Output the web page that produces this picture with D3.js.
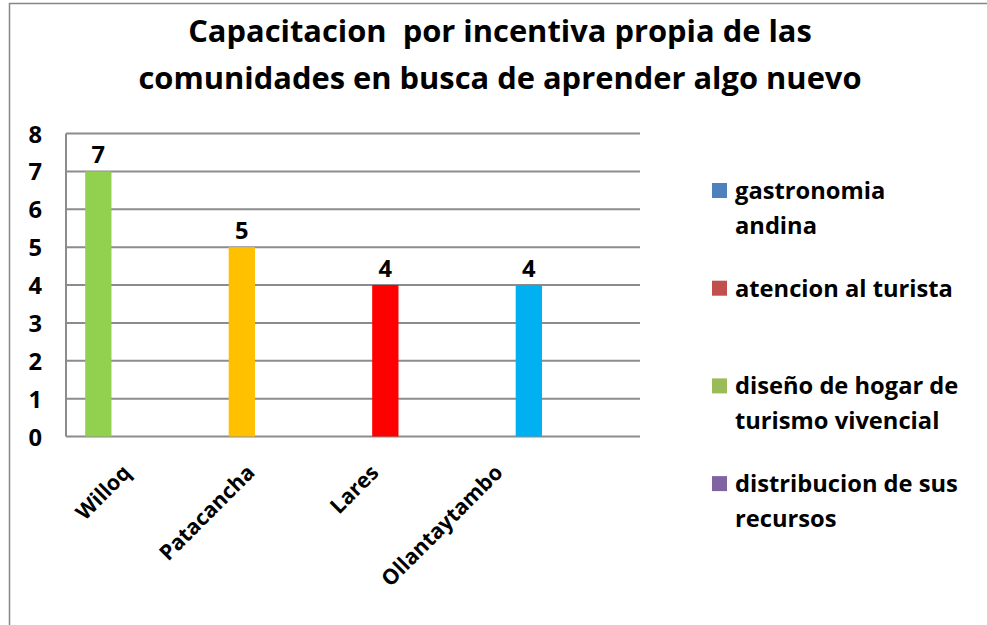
<!DOCTYPE html>
<html>
<head>
<meta charset="utf-8">
<script src="https://cdn.jsdelivr.net/npm/d3@7"></script>
<style>
  html, body { margin: 0; padding: 0; background: #fff; }
  svg { display: block; }
  text { font-family: "Open Sans", "Noto Sans", sans-serif; font-weight: bold; fill: #000; white-space: pre; }
</style>
</head>
<body>
<svg id="chart" width="987" height="625"></svg>
<script>
// ---- data ----
const titleLines = ["Capacitacion  por incentiva propia de las", "comunidades en busca de aprender algo nuevo"];
const categories = ["Willoq", "Patacancha", "Lares", "Ollantaytambo"];
const seriesNames = ["gastronomia\nandina", "atencion al turista", "diseño de hogar de\nturismo vivencial", "distribucion de sus\nrecursos"];
const seriesColors = ["#4F81BD", "#C0504D", "#9BBB59", "#8064A2"];
const values = [7, 5, 4, 4];              // first series, one value per community
const pointColors = ["#92D050", "#FFC000", "#FF0000", "#00B0F0"];
const yTicks = [0, 1, 2, 3, 4, 5, 6, 7, 8];

// ---- layout ----
const plot = { left: 66, right: 640, top: 133.5, bottom: 436.5 };
const svg = d3.select("#chart");

// font-size fitting helper (match rendered width to the reference width)
function fitSize(str, target) {
  const t = svg.append("text").attr("font-size", 20).text(str);
  const w = t.node().getComputedTextLength();
  t.remove();
  return 20 * target / w;
}
const titleSize = fitSize(titleLines[0], 624);
const bodySize = fitSize("atencion al turista", 218);
const catSize = bodySize * 0.9;

// chart frame
svg.append("rect").attr("x", 9.5).attr("y", 3.5).attr("width", 1200).attr("height", 900)
  .attr("fill", "#fff").attr("stroke", "#868686").attr("stroke-width", 1.5);

// title
titleLines.forEach((t, i) => {
  svg.append("text").attr("x", 500).attr("y", 42 + i * 46.5)
    .attr("text-anchor", "middle").attr("font-size", titleSize).text(t);
});

// scales
const x = d3.scaleBand().domain(categories).range([plot.left, plot.right]).paddingInner(0).paddingOuter(0);
const x1 = d3.scaleBand().domain(seriesNames).range([0, x.bandwidth()]).paddingInner(0).paddingOuter(0.73);
const y = d3.scaleLinear().domain([0, 8]).range([plot.bottom, plot.top]);
const xLabel = d3.scaleBand().domain(categories).range([66, 562]);

// gridlines
svg.append("g").selectAll("line").data(yTicks).join("line")
  .attr("x1", plot.left).attr("x2", plot.right)
  .attr("y1", d => y(d)).attr("y2", d => y(d))
  .attr("stroke", "#8c8c8c").attr("stroke-width", 2);
// left axis line
svg.append("line").attr("x1", plot.left).attr("x2", plot.left)
  .attr("y1", y(8)).attr("y2", y(0)).attr("stroke", "#8c8c8c").attr("stroke-width", 2);

// y axis labels
const yAxis = d3.axisLeft(y).tickValues(yTicks).tickSize(0).tickPadding(0).tickFormat(d3.format("d"));
const yg = svg.append("g").attr("transform", `translate(42,0)`).call(yAxis);
yg.select(".domain").remove();
yg.selectAll("text").attr("font-size", bodySize).attr("font-family", "'Open Sans', sans-serif")
  .attr("font-weight", "bold").attr("fill", "#000").attr("dy", "0.36em");

// bars
svg.append("g").selectAll("rect").data(categories).join("rect")
  .attr("x", d => x(d) + x1(seriesNames[0]))
  .attr("width", x1.bandwidth())
  .attr("y", (d, i) => y(values[i]))
  .attr("height", (d, i) => y(0) - y(values[i]))
  .attr("fill", (d, i) => pointColors[i]);

// data labels
svg.append("g").selectAll("text").data(categories).join("text")
  .attr("x", d => x(d) + x1(seriesNames[0]) + x1.bandwidth() / 2)
  .attr("y", (d, i) => y(values[i]) - 8)
  .attr("text-anchor", "middle").attr("font-size", bodySize)
  .text((d, i) => values[i]);

// x labels rotated
svg.append("g").selectAll("text").data(categories).join("text")
  .attr("transform", d => `translate(${xLabel(d) + xLabel.bandwidth() / 2 + 4},474) rotate(-45)`)
  .attr("text-anchor", "end").attr("font-size", catSize)
  .text(d => d);

// legend
const leg = svg.append("g");
seriesNames.forEach((s, i) => {
  const by = 199 + i * 97.7;
  leg.append("rect").attr("x", 712).attr("y", by - 16).attr("width", 15).attr("height", 15).attr("fill", seriesColors[i]);
  s.split("\n").forEach((line, j) => {
    leg.append("text").attr("x", 735).attr("y", by + j * 35).attr("font-size", bodySize).text(line);
  });
});
</script>
</body>
</html>
